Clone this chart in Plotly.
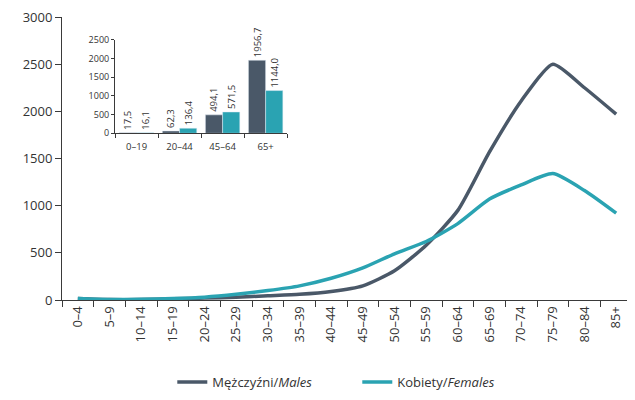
import plotly.graph_objects as go

age_groups = ["0–4", "5–9", "10–14", "15–19", "20–24", "25–29", "30–34", "35–39",
              "40–44", "45–49", "50–54", "55–59", "60–64", "65–69", "70–74", "75–79",
              "80–84", "85+"]
males = [17, 5, 5, 12, 20, 30, 45, 60, 90, 150, 310, 580, 950, 1570, 2110, 2500, 2250, 1970]
females = [15, 5, 7, 15, 30, 60, 100, 150, 230, 340, 490, 620, 810, 1070, 1220, 1340, 1160, 920]

inset_groups = ["0–19", "20–44", "45–64", "65+"]
inset_males = [17.5, 62.3, 494.1, 1956.7]
inset_females = [16.1, 136.4, 571.5, 1144.0]

male_color = "#4a5868"
female_color = "#2aa3b2"
axis_color = "#3a3a3a"
font_family = "Open Sans, Noto Sans, sans-serif"

def fmt(v):
    return f"{v:.1f}".replace(".", ",")

fig = go.Figure()
fig.add_trace(go.Scatter(x=age_groups, y=males, mode="lines", name="Mężczyźni/<i>Males</i>",
                         line=dict(color=male_color, width=3.5, shape="spline", smoothing=0.6)))
fig.add_trace(go.Scatter(x=age_groups, y=females, mode="lines", name="Kobiety/<i>Females</i>",
                         line=dict(color=female_color, width=3.5, shape="spline", smoothing=0.6)))

for vals, col in ((inset_males, male_color), (inset_females, female_color)):
    fig.add_trace(go.Bar(x=inset_groups, y=vals, marker_color=col, showlegend=False,
                         xaxis="x2", yaxis="y2", text=[fmt(v) for v in vals],
                         textposition="outside", textangle=-90, cliponaxis=False,
                         constraintext="none",
                         textfont=dict(size=9.5, color="#333333")))

fig.update_layout(
    width=627, height=392,
    margin=dict(l=54, r=3, t=9, b=98),
    paper_bgcolor="white", plot_bgcolor="white",
    font=dict(family=font_family, size=13, color="#333333"),
    barmode="group", bargap=0.2, bargroupgap=0,
    xaxis=dict(type="category", range=[-0.5, 17.5], tickson="boundaries", ticks="outside",
               ticklen=6, tickcolor=axis_color, showline=True, linecolor=axis_color,
               showgrid=False, tickangle=-90, tickfont=dict(size=13), zeroline=False,
               automargin=False, ticklabeloverflow="allow"),
    yaxis=dict(range=[0, 3000], dtick=500, ticks="outside", ticklen=6, tickcolor=axis_color,
               showline=True, linecolor=axis_color, showgrid=False, zeroline=False,
               tickfont=dict(size=13), automargin=False, ticklabeloverflow="allow"),
    xaxis2=dict(domain=[0.093, 0.395], anchor="y2", type="category", tickson="boundaries",
                ticks="outside", ticklen=4, tickcolor=axis_color, showline=True,
                linecolor=axis_color, showgrid=False, tickfont=dict(size=9.5), automargin=False,
                ticklabelstandoff=4),
    yaxis2=dict(domain=[0.589, 0.919], anchor="x2", range=[0, 2500], dtick=500,
                ticks="outside", ticklen=3, tickcolor=axis_color, showline=True,
                linecolor=axis_color, showgrid=False, zeroline=False, tickfont=dict(size=9),
                automargin=False),
    legend=dict(orientation="h", x=0.1935, xanchor="left", y=-0.29, yanchor="middle",
                font=dict(size=13), entrywidth=140, entrywidthmode="pixels"),
)

fig.write_html("out.html")
